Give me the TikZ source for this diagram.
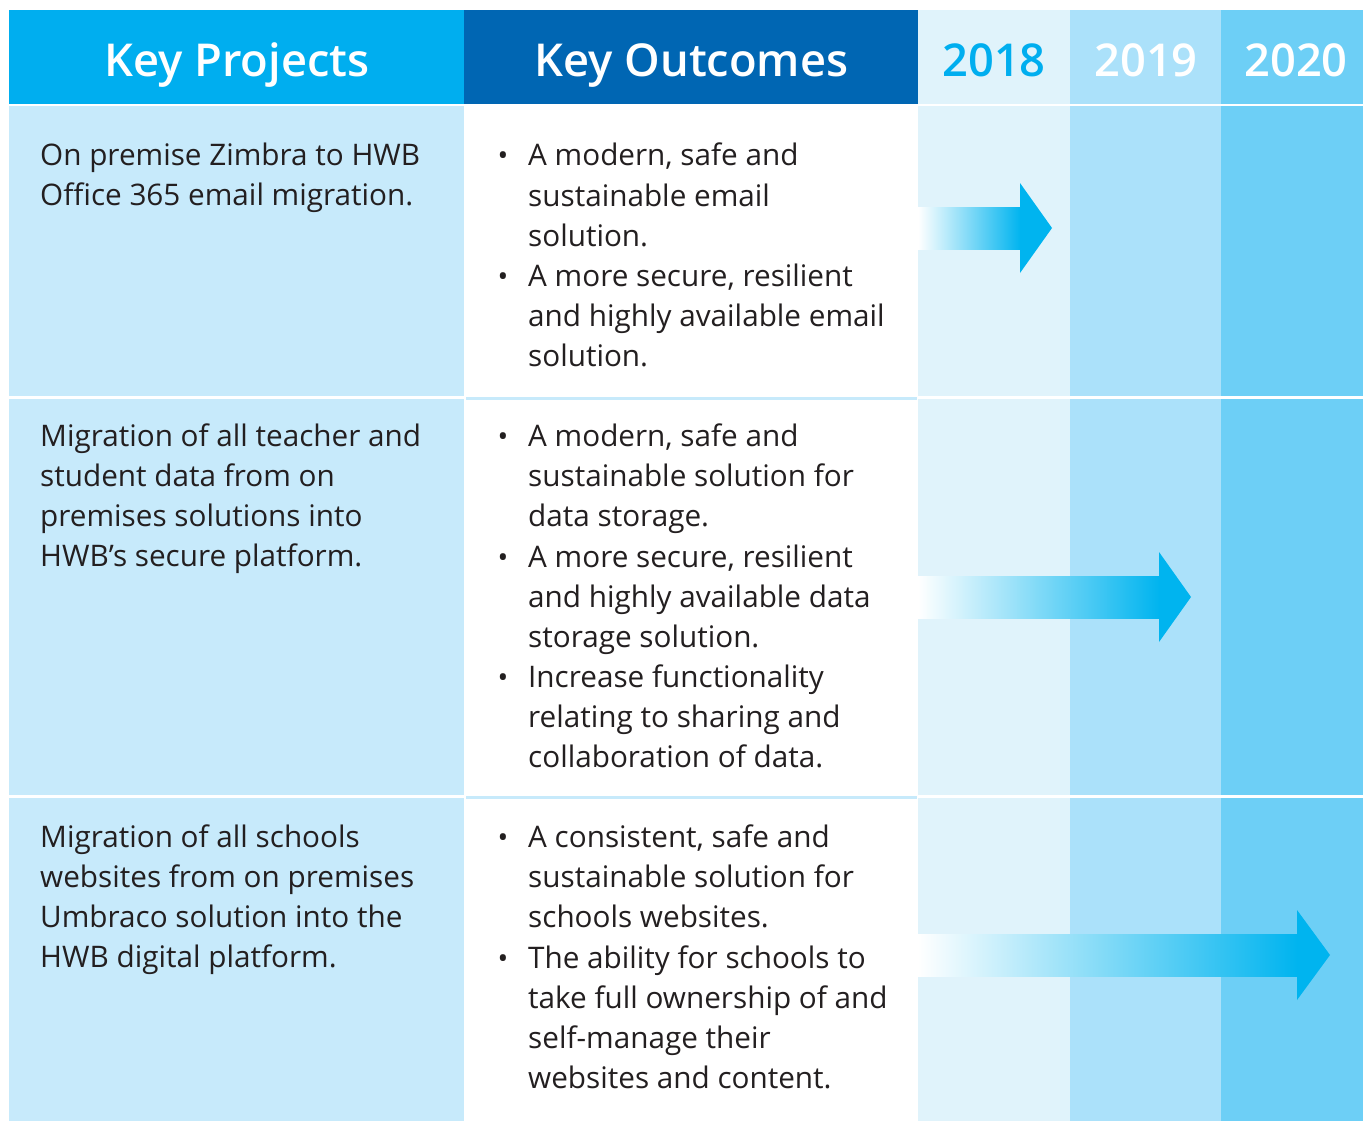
\documentclass[tikz,border=0pt]{standalone}
\usepackage{fontspec}
\setmainfont{Open Sans}
\IfFontExistsTF{Open Sans SemiBold}{\newfontfamily\hdrfont{Open Sans SemiBold}}{%
  \IfFontExistsTF{Open Sans Semibold}{\newfontfamily\hdrfont{Open Sans Semibold}}{%
    \newfontfamily\hdrfont{Open Sans}[UprightFont=*-Bold]}}
\definecolor{hdrA}{HTML}{00AEEF}
\definecolor{hdrB}{HTML}{0066B3}
\definecolor{cA}{HTML}{E0F3FB}
\definecolor{cB}{HTML}{ABE1FA}
\definecolor{cC}{HTML}{6DCFF6}
\definecolor{projbg}{HTML}{C7EAFB}
\definecolor{arrowc}{HTML}{00B4EF}
\definecolor{txtc}{HTML}{231F20}
\tikzset{
  hdr/.style={inner sep=0pt, anchor=base, font=\hdrfont\fontsize{45.3}{54}\selectfont},
  body/.style={inner sep=0pt, anchor=base west, text=txtc, font=\fontsize{29.7}{40}\selectfont},
  bul/.style={inner sep=0pt, anchor=base, text=txtc, font=\fontsize{28.5}{40}\selectfont},
}
\newcommand\tline[4]{\node[body] (#1) at (#2,#3) {#4};}
\newcommand\tbul[2]{\node[bul] (#1) at (503,#2) {•};}
\newcommand\tarrow[4]{% name, center y, head base x, tip x
  \fill[left color=white, right color=arrowc, draw=none] (918,#2-21) rectangle (#3+0.5,#2+21);
  \fill[arrowc] (#3,#2-45) -- (#4,#2) -- (#3,#2+45) -- cycle;
  \coordinate (#1) at (#4,#2);}
\begin{document}
\begin{tikzpicture}[x=1pt,y=-1pt]
\useasboundingbox (0,0) rectangle (1363,1121);
\fill[white] (0,0) rectangle (1363,1121);
% header
\fill[hdrA] (9,10) rectangle (464,104);
\fill[hdrB] (464,10) rectangle (918,104);
\fill[cA] (918,10) rectangle (1070,104);
\fill[cB] (1070,10) rectangle (1221,104);
\fill[cC] (1221,10) rectangle (1363,104);
\node[hdr, text=white] (hp) at (237,77) {Key Projects};
\node[hdr, text=white] (ho) at (691.5,77) {Key Outcomes};
\node[hdr, text=hdrA] (h18) at (994,77) {2018};
\node[hdr, text=white] (h19) at (1146,77) {2019};
\node[hdr, text=white] (h20) at (1296,77) {2020};
% rows
\foreach \ya/\yb in {106/396, 398.5/795, 797.5/1121}{
  \fill[projbg] (9,\ya) rectangle (464,\yb);
  \fill[cA] (918,\ya) rectangle (1070,\yb);
  \fill[cB] (1070,\ya) rectangle (1221,\yb);
  \fill[cC] (1221,\ya) rectangle (1363,\yb);
}
\fill[projbg] (466,397) rectangle (917,399.5);
\fill[projbg] (466,796) rectangle (917,798.5);
% arrows
\tarrow{a1}{228}{1020}{1052}
\tarrow{a2}{597}{1159}{1191}
\tarrow{a3}{955}{1297}{1330}
% row 1
\tline{p1a}{40}{165}{On premise Zimbra to HWB}
\tline{p1b}{40}{205}{Office 365 email migration.}
\tbul{b1a}{166}
\tline{o1a}{528}{166}{A modern, safe and}
\tline{o1b}{528}{206}{sustainable email}
\tline{o1c}{528}{246}{solution.}
\tbul{b1b}{286}
\tline{o1d}{528}{286}{A more secure, resilient}
\tline{o1e}{528}{326}{and highly available email}
\tline{o1f}{528}{366}{solution.}
% row 2
\tline{p2a}{40}{446}{Migration of all teacher and}
\tline{p2b}{40}{486}{student data from on}
\tline{p2c}{40}{526}{premises solutions into}
\tline{p2d}{40}{566}{HWB’s secure platform.}
\tbul{b2a}{446}
\tline{o2a}{528}{446}{A modern, safe and}
\tline{o2b}{528}{486}{sustainable solution for}
\tline{o2c}{528}{526}{data storage.}
\tbul{b2b}{567}
\tline{o2d}{528}{567}{A more secure, resilient}
\tline{o2e}{528}{607}{and highly available data}
\tline{o2f}{528}{647}{storage solution.}
\tbul{b2c}{687}
\tline{o2g}{528}{687}{Increase functionality}
\tline{o2h}{528}{727}{relating to sharing and}
\tline{o2i}{528}{767}{collaboration of data.}
% row 3
\tline{p3a}{40}{847}{Migration of all schools}
\tline{p3b}{40}{887}{websites from on premises}
\tline{p3c}{40}{927}{Umbraco solution into the}
\tline{p3d}{40}{967}{HWB digital platform.}
\tbul{b3a}{847}
\tline{o3a}{528}{847}{A consistent, safe and}
\tline{o3b}{528}{887}{sustainable solution for}
\tline{o3c}{528}{927}{schools websites.}
\tbul{b3b}{968}
\tline{o3d}{528}{968}{The ability for schools to}
\tline{o3e}{528}{1008}{take full ownership of and}
\tline{o3f}{528}{1048}{self-manage their}
\tline{o3g}{528}{1088}{websites and content.}
\end{tikzpicture}
\end{document}
